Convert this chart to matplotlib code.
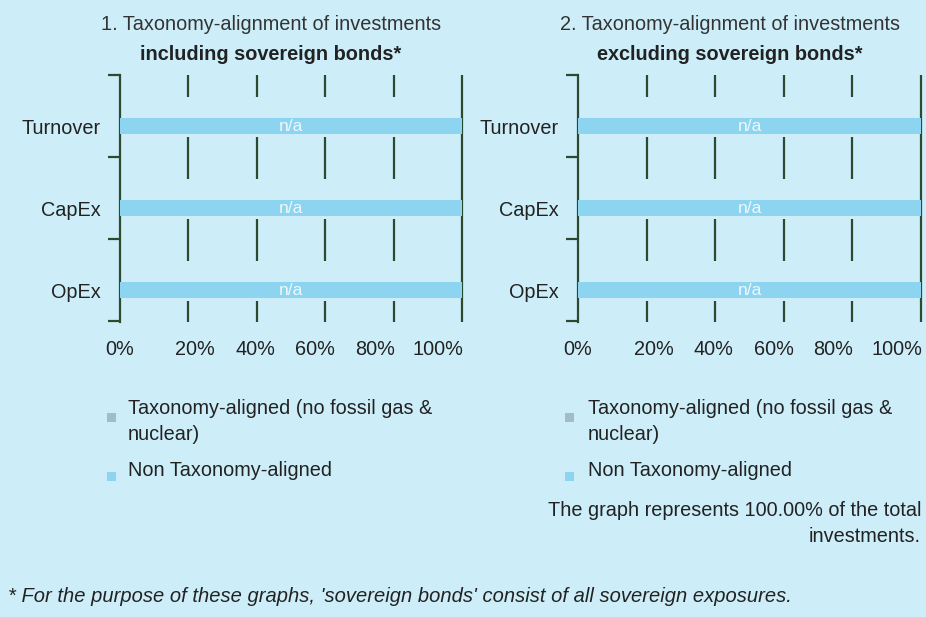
import matplotlib
matplotlib.use("Agg")
import matplotlib.pyplot as plt
from matplotlib.patches import Rectangle

plt.rcParams['font.family'] = ['Liberation Sans', 'DejaVu Sans']

# ---- data ----
categories = ["Turnover", "CapEx", "OpEx"]
aligned_incl = [0, 0, 0]
non_aligned_incl = [100, 100, 100]
aligned_excl = [0, 0, 0]
non_aligned_excl = [100, 100, 100]
bar_labels = ["n/a", "n/a", "n/a"]
grid_values = [20, 40, 60, 80, 100]
tick_labels = ["0%", "20%", "40%", "60%", "80%", "100%"]
tick_label_pos = [0, 22, 39.5, 57, 74.5, 93]
titles = [("1. Taxonomy-alignment of investments", "including sovereign bonds*"),
          ("2. Taxonomy-alignment of investments", "excluding sovereign bonds*")]
legend_lines = [["Taxonomy-aligned (no fossil gas &", "nuclear)"], ["Non Taxonomy-aligned"]]

BG = "#cdeef9"
BAR = "#8dd4f1"
ALIGNED = "#a3bcc6"
GREEN = "#2d4a30"
TXT = "#222222"
FS = 14.3

W, H = 926, 617
fig = plt.figure(figsize=(W / 100, H / 100), dpi=100, facecolor=BG)

def fx(px):
    return px / W

def fy(py):
    return 1 - py / H

panels = [
    (120, 462, aligned_incl, non_aligned_incl),
    (578, 921, aligned_excl, non_aligned_excl),
]

ypos = list(range(len(categories)))
ytop, ybot = -0.622, 2.39
bounds = [ytop + i * 1.0 for i in range(len(categories) + 1)]

for idx, (x0, x1, aligned, non_aligned) in enumerate(panels):
    ax = fig.add_axes([fx(x0), fy(322), fx(x1 - x0), (322 - 75) / H])
    ax.set_facecolor(BG)
    ax.set_xlim(0, 100)
    ax.set_ylim(ybot, ytop)
    for s in ["top", "right", "bottom"]:
        ax.spines[s].set_visible(False)
    ax.spines["left"].set_color(GREEN)
    ax.spines["left"].set_linewidth(1.6)

    # gridlines
    ax.vlines(grid_values, ybot, ytop, colors=GREEN, linewidth=1.6, zorder=1, clip_on=False)
    # background covers (gaps in gridlines)
    ax.barh([y - 0.11 for y in ypos], [99] * len(ypos), height=0.49, color=BG, zorder=2)
    # stacked bars
    ax.barh(ypos, aligned, height=0.19, color=ALIGNED, zorder=3)
    ax.barh(ypos, non_aligned, left=aligned, height=0.19, color=BAR, zorder=3)
    for y, lab in zip(ypos, bar_labels):
        ax.text(50, y, lab, ha="center", va="center", color="#eef8fc", fontsize=12.5, zorder=4)

    # y ticks: boundaries (major) and labels (minor)
    ax.set_yticks(bounds)
    ax.set_yticklabels([])
    ax.tick_params(axis="y", which="major", length=9, width=1.6, color=GREEN, direction="out")
    ax.set_yticks(ypos, minor=True)
    ax.set_yticklabels(categories, minor=True, fontsize=FS, color=TXT)
    ax.tick_params(axis="y", which="minor", length=0, pad=14)

    ax.set_xticks(tick_label_pos)
    ax.set_xticklabels(tick_labels, fontsize=FS, color=TXT)
    ax.tick_params(axis="x", length=0, pad=13)

    cx = (x0 + x1) / 2 - 20
    fig.text(fx(cx), fy(25), titles[idx][0], ha="center", va="center", fontsize=FS, color="#333333")
    fig.text(fx(cx), fy(54), titles[idx][1], ha="center", va="center", fontsize=FS,
             fontweight="bold", color="#222222")

    # legend
    lx = 107 if idx == 0 else 565
    tx = 128 if idx == 0 else 588
    for (ty, sq_py), lines, col in zip([(409, 417), (471, 476)], legend_lines, [ALIGNED, BAR]):
        fig.patches.append(Rectangle((fx(lx), fy(sq_py + 4.5)), fx(9), 9 / H,
                                     transform=fig.transFigure, facecolor=col, edgecolor="none"))
        for k, line in enumerate(lines):
            fig.text(fx(tx), fy(ty + 26 * k), line, ha="left", va="center",
                     fontsize=FS, color=TXT)

fig.text(fx(921), fy(511), "The graph represents 100.00% of the total", ha="right", va="center",
         fontsize=FS, color=TXT)
fig.text(fx(921), fy(537), "investments.", ha="right", va="center", fontsize=FS, color=TXT)

fig.text(fx(8), fy(596),
         "* For the purpose of these graphs, 'sovereign bonds' consist of all sovereign exposures.",
         ha="left", va="center", fontsize=14.5, style="italic", color=TXT)

fig.savefig("out.png", dpi=100, facecolor=BG)
